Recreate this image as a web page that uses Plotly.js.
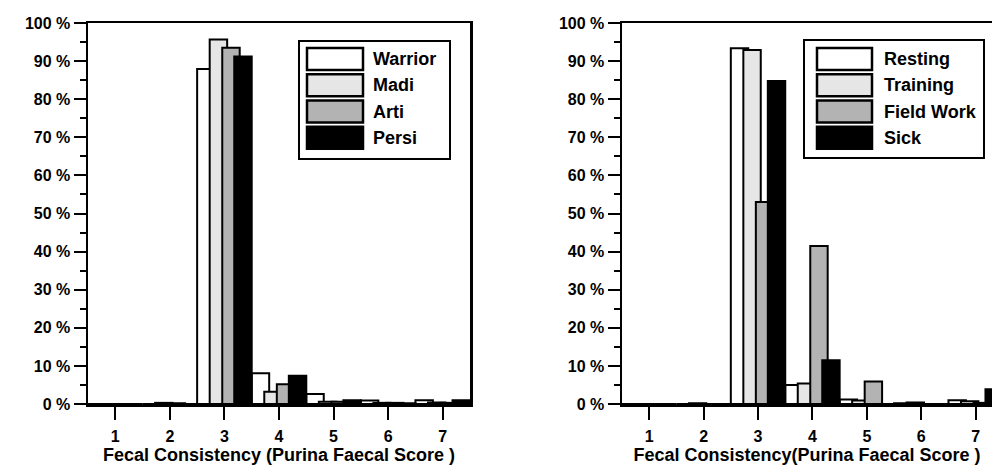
<!DOCTYPE html>
<html>
<head>
<meta charset="utf-8">
<script src="https://cdn.plot.ly/plotly-3.0.1.min.js"></script>
<style>html,body{margin:0;padding:0;background:#fff;}#chart{width:992px;height:466px;}</style>
</head>
<body>
<div id="chart"></div>
<script>
// ---- data ----
const categories = [1, 2, 3, 4, 5, 6, 7];

const leftNames = ['Warrior', 'Madi', 'Arti', 'Persi'];
const warrior = [0, 0, 87.9, 8.1, 2.6, 0.9, 1.0];
const madi    = [0, 0.3, 95.7, 3.2, 0.6, 0.3, 0.4];
const arti    = [0, 0.2, 93.5, 5.2, 0.6, 0.3, 0.3];
const persi   = [0, 0, 91.2, 7.4, 1.0, 0.2, 1.0];

const rightNames = ['Resting', 'Training', 'Field Work', 'Sick'];
const resting   = [0, 0, 93.4, 5.0, 1.2, 0.2, 1.0];
const training  = [0, 0.2, 92.9, 5.4, 0.9, 0.4, 0.7];
const fieldWork = [0, 0, 53.0, 41.5, 5.9, 0, 0.3];
const sick      = [0, 0, 84.8, 11.5, 0, 0, 3.9];

const leftTitle = 'Fecal Consistency (Purina Faecal Score )';
const rightTitle = 'Fecal Consistency(Purina Faecal Score )';

// ---- styles ----
const fills = ['#ffffff', '#e6e6e6', '#b3b3b3', '#000000'];
const offsets = [-0.5, -0.27, -0.04, 0.18];
const barWidth = 0.32;
const FONT = 'Liberation Sans, Arial, Helvetica, sans-serif';

function makeTraces(names, series, xa, ya) {
  return series.map((vals, i) => ({
    type: 'bar',
    name: names[i],
    x: categories,
    y: vals,
    xaxis: xa,
    yaxis: ya,
    width: barWidth,
    offset: offsets[i],
    marker: { color: fills[i], opacity: 1, line: { color: '#000', width: 2 } },
    hoverinfo: 'skip'
  }));
}

const traces = [
  ...makeTraces(leftNames, [warrior, madi, arti, persi], 'x', 'y'),
  ...makeTraces(rightNames, [resting, training, fieldWork, sick], 'x2', 'y2')
];

const W = 992, H = 466, T = 23, B = 62;
const plotH = H - T - B;
const px = v => v / W;
const py = v => (H - B - v) / plotH;

const xCommon = {
  tickmode: 'array', tickvals: categories, ticktext: categories.map(String),
  showline: true, linecolor: '#000', linewidth: 2.5, mirror: true,
  ticks: 'outside', ticklen: 13, tickwidth: 2, tickcolor: '#000',
  ticklabelstandoff: 3,
  showgrid: false, zeroline: false, fixedrange: true,
  tickfont: { family: FONT, size: 16, color: '#000', weight: 'bold' },
  automargin: false, layer: 'above traces'
};
const yCommon = {
  range: [0, 100], dtick: 10, tick0: 0, ticksuffix: ' %',
  showline: true, linecolor: '#000', linewidth: 2.5,
  ticks: 'outside', ticklen: 12, tickwidth: 2, tickcolor: '#000',
  minor: { dtick: 5, ticks: 'outside', ticklen: 6, tickwidth: 2, tickcolor: '#000', showgrid: false },
  showgrid: false, zeroline: false, fixedrange: true,
  tickfont: { family: FONT, size: 16, color: '#000', weight: 'bold' },
  automargin: false, layer: 'above traces'
};
const titleFont = { family: FONT, size: 18, color: '#000', weight: 'bold' };

const layout = {
  width: W, height: H,
  margin: { l: 0, r: 0, t: T, b: B, pad: 0 },
  paper_bgcolor: '#fff', plot_bgcolor: '#fff',
  showlegend: false, barmode: 'overlay',
  font: { family: FONT, color: '#000' },
  xaxis: Object.assign({}, xCommon, { domain: [px(88), px(470)], range: [0.5, 7.5], anchor: 'y',
    title: { text: leftTitle, font: titleFont, standoff: 3 } }),
  yaxis: Object.assign({}, yCommon, { anchor: 'x', mirror: true }),
  xaxis2: Object.assign({}, xCommon, { domain: [px(622), 1], range: [0.5, 7.3], anchor: 'y2',
    title: { text: rightTitle, font: titleFont, standoff: 3 } }),
  yaxis2: Object.assign({}, yCommon, { anchor: 'x2', mirror: false }),
  shapes: [], annotations: []
};

// ---- hand-drawn legends (big swatches like the original) ----
function addLegend(names, boxX0, boxX1, boxY0, boxY1, swX0, swX1, textX, rowTops) {
  layout.shapes.push({ type: 'rect', xref: 'paper', yref: 'paper',
    x0: px(boxX0), x1: px(boxX1), y0: py(boxY1), y1: py(boxY0),
    line: { color: '#000', width: 2 }, fillcolor: '#fff', layer: 'above' });
  names.forEach((n, i) => {
    const top = rowTops[i], bot = top + 22;
    layout.shapes.push({ type: 'rect', xref: 'paper', yref: 'paper',
      x0: px(swX0), x1: px(swX1), y0: py(bot), y1: py(top),
      line: { color: '#000', width: 2.5 }, fillcolor: fills[i], layer: 'above' });
    layout.annotations.push({ xref: 'paper', yref: 'paper', x: px(textX), y: py((top + bot) / 2),
      xanchor: 'left', yanchor: 'middle', showarrow: false, text: n,
      font: { family: FONT, size: 18, color: '#000', weight: 'bold' } });
  });
}
const rows = [48, 74.3, 100.5, 126.7];
addLegend(leftNames, 299, 450, 41, 159, 307, 363, 371, rows);
addLegend(rightNames, 804, 984, 40, 158, 817, 872, 882, rows);

Plotly.newPlot('chart', traces, layout, { staticPlot: true, displayModeBar: false });
</script>
</body>
</html>
